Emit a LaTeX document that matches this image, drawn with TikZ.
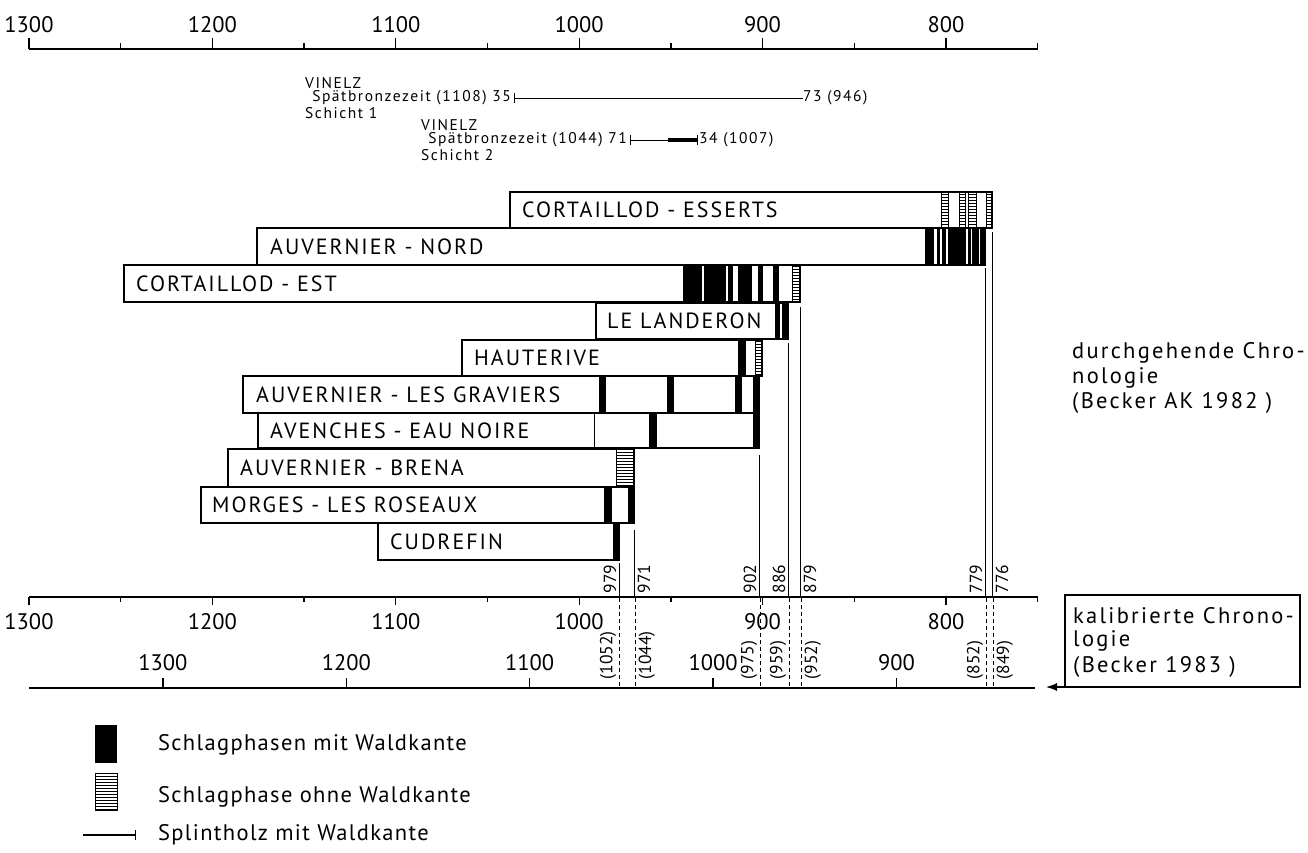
\documentclass[tikz,border=0pt]{standalone}
\usepackage{fontspec}
\setmainfont{PT Sans}
\newfontfamily\barfont[LetterSpace=9]{PT Sans}
\newfontfamily\txtfont[LetterSpace=6]{PT Sans}
\newfontfamily\vinfont[LetterSpace=10]{PT Sans}
\newfontfamily\sidefont[LetterSpace=10]{PT Sans}
\usetikzlibrary{patterns,arrows.meta}
\tikzset{
  barbox/.style={draw, line width=1.1pt, fill=white},
  blk/.style={fill=black, draw=black, line width=0.6pt},
  hat/.style={pattern=horizontal lines, draw=black, line width=0.8pt},
  barlbl/.style={anchor=west, inner sep=0pt, font=\barfont\fontsize{22}{25}\selectfont},
  axlbl/.style={inner sep=0pt, font=\fontsize{22.5}{25}\selectfont},
  rotlbl/.style={rotate=90, inner sep=0.5pt, font=\fontsize{17.5}{19}\selectfont},
  smalltxt/.style={anchor=west, inner sep=0pt, font=\vinfont\fontsize{15.5}{17}\selectfont},
  sidetxt/.style={anchor=west, inner sep=0pt, font=\sidefont\fontsize{22.5}{25}\selectfont},
  legtxt/.style={anchor=west, inner sep=0pt, font=\txtfont\fontsize{22.5}{25}\selectfont},
  axline/.style={line width=1.3pt},
  yrline/.style={line width=1pt},
  dline/.style={line width=0.8pt, dash pattern=on 4pt off 3pt}
}
\begin{document}
\begin{tikzpicture}[x=1pt,y=-1pt]
\useasboundingbox (0,0) rectangle (1308,852);
% ---------- top axis ----------
\draw[axline] (29,49) coordinate (ta0) -- (1038,49) coordinate (ta1);
\foreach \yr in {1300,1250,...,750}{
  \pgfmathsetmacro\xx{29+(1300-\yr)*1.834}
  \pgfmathtruncatemacro\md{mod(\yr,100)}
  \ifnum\md=0
    \draw[axline] (\xx,49) -- (\xx,38);
  \else
    \draw[axline] (\xx,49) -- (\xx,43);
  \fi
}
\foreach \yr in {1300,1200,...,800}{
  \pgfmathsetmacro\xx{29+(1300-\yr)*1.834}
  \node[axlbl] (t\yr) at (\xx,25) {\yr};
}
% ---------- Vinelz ----------
\node[smalltxt] (v1a) at (305,83) {VINELZ};
\node[smalltxt,anchor=east] (v1b) at (511,98) {Spätbronzezeit (1108) 35};
\node[smalltxt] (v1c) at (305,113) {Schicht 1};
\coordinate (v1s) at (514,98);
\coordinate (v1e) at (803,98);
\draw[yrline] (v1s) -- (v1e);
\draw[yrline] ([yshift=-5pt]v1s) -- ([yshift=5pt]v1s);
\node[smalltxt] (v1d) at (v1e) {73 (946)};
\node[smalltxt] (v2a) at (421,125) {VINELZ};
\node[smalltxt,anchor=east] (v2b) at (627,140) {Spätbronzezeit (1044) 71};
\node[smalltxt] (v2c) at (421,155) {Schicht 2};
\coordinate (v2s) at (630,140);
\coordinate (v2m) at (668,140);
\coordinate (v2e) at (697,140);
\draw[yrline] (v2s) -- (v2e);
\draw[line width=3.2pt] (v2m) -- (v2e);
\draw[yrline] ([yshift=-5pt]v2s) -- ([yshift=5pt]v2s);
\draw[yrline] ([yshift=-5pt]v2e) -- ([yshift=5pt]v2e);
\node[smalltxt] (v2d) at ([xshift=2pt]v2e) {34 (1007)};
% ---------- bars ----------
% R1 Cortaillod-Esserts
\draw[barbox] (510,192) rectangle (992,228);
\foreach \a/\b in {941/948,959/965,968/976,986/992}{\draw[hat] (\a,192) rectangle (\b,228);}
\node[barlbl] (b1) at (522,210) {CORTAILLOD - ESSERTS};
% R2 Auvernier-Nord
\draw[barbox] (257,228) rectangle (985,265);
\foreach \a/\b in {925/933,937/939,942/945,948/965,968/970,972/978,980/985}{\fill[blk] (\a,228) rectangle (\b,265);}
\node[barlbl] (b2) at (270,246.5) {AUVERNIER - NORD};
% R3 Cortaillod-Est
\draw[barbox] (124,265) rectangle (800,302);
\foreach \a/\b in {683/701,704/725,728/732,738/751,758/762,773/778}{\fill[blk] (\a,265) rectangle (\b,302);}
\draw[hat] (792,265) rectangle (800,302);
\node[barlbl] (b3) at (136,283.5) {CORTAILLOD - EST};
% R4 Le Landeron
\draw[barbox] (596,303) rectangle (788,339);
\foreach \a/\b in {775/779,782/788}{\fill[blk] (\a,303) rectangle (\b,339);}
\node[barlbl] (b4) at (607,321) {LE LANDERON};
% R5 Hauterive
\draw[barbox] (462,340) rectangle (762,376);
\fill[blk] (738,340) rectangle (745,376);
\draw[hat] (755,340) rectangle (762,376);
\node[barlbl] (b5) at (474,358) {HAUTERIVE};
% R6 Auvernier-Les Graviers
\draw[barbox] (243,376) rectangle (759,413);
\foreach \a/\b in {599/605,667/673,735/741,753/759}{\fill[blk] (\a,376) rectangle (\b,413);}
\node[barlbl] (b6) at (256,394.5) {AUVERNIER - LES GRAVIERS};
% R7 Avenches-Eau Noire
\draw[barbox] (258,413) rectangle (759,448);
\draw[line width=1pt] (594,413) -- (594,448);
\foreach \a/\b in {649/656,753/759}{\fill[blk] (\a,413) rectangle (\b,448);}
\node[barlbl] (b7) at (270,430.5) {AVENCHES - EAU NOIRE};
% R8 Auvernier-Brena
\draw[barbox] (228,449) rectangle (634,487);
\draw[hat] (616,449) rectangle (634,487);
\node[barlbl] (b8) at (240,468) {AUVERNIER - BRENA};
% R9 Morges-Les Roseaux
\draw[barbox] (201,487) rectangle (634,523);
\foreach \a/\b in {604/611,628/634}{\fill[blk] (\a,487) rectangle (\b,523);}
\node[barlbl] (b9) at (212,505) {MORGES - LES ROSEAUX};
% R10 Cudrefin
\draw[barbox] (378,523) rectangle (619,560);
\fill[blk] (613,523) rectangle (619,560);
\node[barlbl] (b10) at (390,541.5) {CUDREFIN};
% ---------- year lines ----------
\foreach \xx/\yt in {619/563,634/530,759/455,788/343,800/307,985/268,992/232}{
  \draw[yrline] (\xx,\yt) -- (\xx,597);
}
\foreach \xx in {619,635,760,789,801,986,993}{
  \draw[dline] (\xx,598) -- (\xx,688);
}
% rotated labels, upper row
\node[rotlbl,anchor=south west] (l979) at (617,594) {979};
\node[rotlbl,anchor=north west] (l971) at (637,594) {971};
\node[rotlbl,anchor=south west] (l902) at (757,594) {902};
\node[rotlbl,anchor=south west] (l886) at (786,594) {886};
\node[rotlbl,anchor=north west] (l879) at (803,594) {879};
\node[rotlbl,anchor=south west] (l779) at (983,594) {779};
\node[rotlbl,anchor=north west] (l776) at (995,594) {776};
% rotated labels, calibrated
\node[rotlbl,anchor=south west] (c1052) at (617,680) {(1052)};
\node[rotlbl,anchor=north west] (c1044) at (638,680) {(1044)};
\node[rotlbl,anchor=south west] (c975) at (758,680) {(975)};
\node[rotlbl,anchor=south west] (c959) at (787,680) {(959)};
\node[rotlbl,anchor=north west] (c952) at (804,680) {(952)};
\node[rotlbl,anchor=south west] (c852) at (984,680) {(852)};
\node[rotlbl,anchor=north west] (c849) at (996,680) {(849)};
% ---------- lower axis ----------
\draw[axline] (29,597) -- (1038,597);
\foreach \yr in {1300,1250,...,750}{
  \pgfmathsetmacro\xx{29+(1300-\yr)*1.834}
  \pgfmathtruncatemacro\md{mod(\yr,100)}
  \ifnum\md=0
    \draw[axline] (\xx,597) -- (\xx,605);
  \else
    \draw[axline] (\xx,597) -- (\xx,602);
  \fi
}
\foreach \yr in {1300,1200,...,800}{
  \pgfmathsetmacro\xx{29+(1300-\yr)*1.834}
  \node[axlbl] (u\yr) at (\xx,622) {\yr};
}
% ---------- calibrated axis ----------
\draw[axline] (29,688) -- (1035,688) coordinate (caxend);
\foreach \yr in {1300,1200,...,900}{
  \pgfmathsetmacro\xx{29+(1373-\yr)*1.834}
  \draw[axline] (\xx,688) -- (\xx,678);
  \node[axlbl] (k\yr) at (\xx,663) {\yr};
}
% ---------- right texts ----------
\node[sidetxt] (dur1) at (1072,353) {durchgehende Chro-};
\node[sidetxt] (dur2) at (1072,378) {nologie};
\node[sidetxt] (dur3) at (1072,403) {(Becker AK 1982 )};
\draw[line width=1.1pt] (1065,595) rectangle (1300,687);
\coordinate (kbsw) at (1065,687);
\coordinate (arrend) at (1046,687);
\node[sidetxt] (kal1) at (1073,616) {kalibrierte Chrono-};
\node[sidetxt] (kal2) at (1073,641) {logie};
\node[sidetxt] (kal3) at (1073,667) {(Becker 1983 )};
\draw[line width=1.1pt,-{Latex[length=11pt,width=8pt]}] (kbsw) -- (arrend);
% ---------- legend ----------
\fill[black] (95,725) rectangle (117,763);
\draw[hat] (95,773) rectangle (117,810);
\coordinate (lgs) at (83,835);
\coordinate (lge) at (135,835);
\draw[line width=2pt] (lgs) -- (lge);
\draw[yrline] ([yshift=-5pt]lge) -- ([yshift=5pt]lge);
\node[legtxt] (lg1) at (158,745) {Schlagphasen mit Waldkante};
\node[legtxt] (lg2) at (158,797) {Schlagphase ohne Waldkante};
\node[legtxt] (lg3) at (158,835) {Splintholz mit Waldkante};
\end{tikzpicture}
\end{document}
